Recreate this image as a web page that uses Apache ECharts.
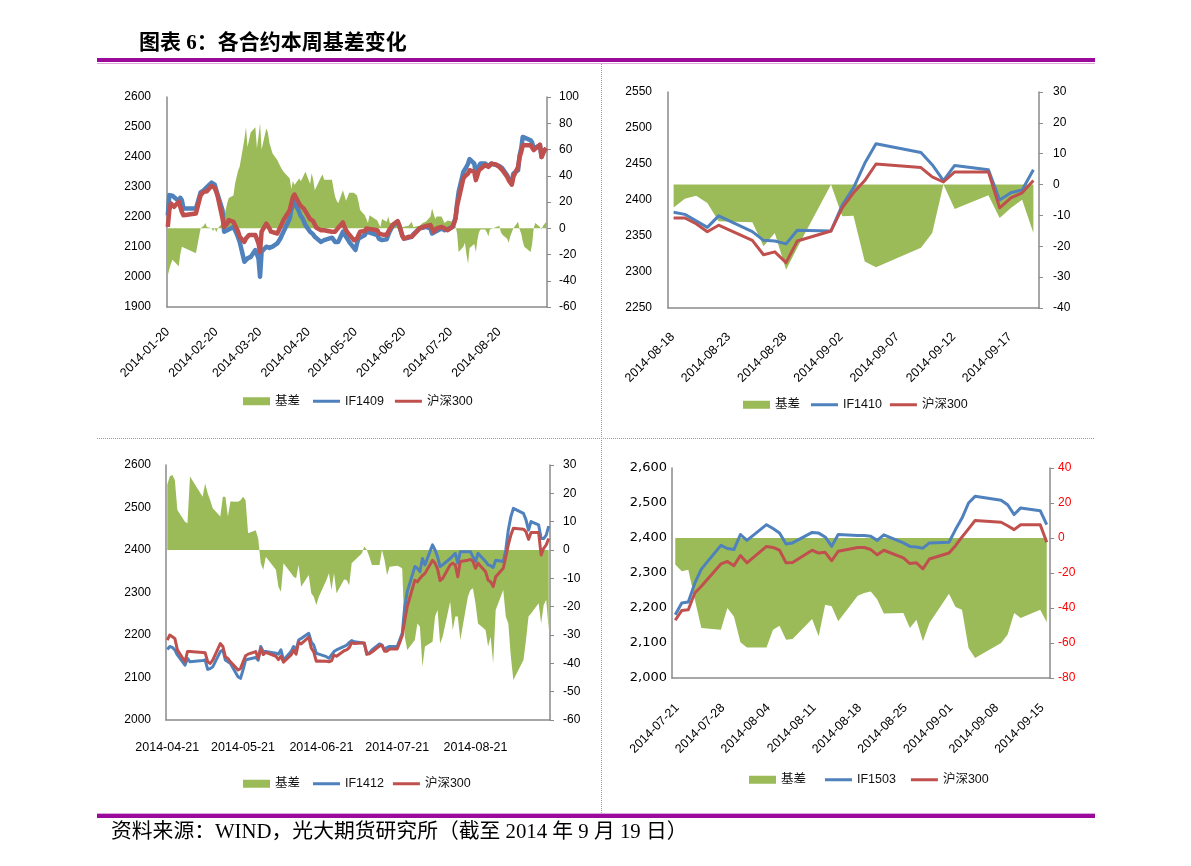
<!DOCTYPE html>
<html><head><meta charset="utf-8">
<script src="https://cdn.jsdelivr.net/npm/echarts@6/dist/echarts.min.js"></script>
<style>html,body{margin:0;padding:0;background:#fff}#c{width:1191px;height:866px}</style>
</head><body><div id="c"></div>
<script>
// ---------------- DATA ----------------
const TITLE = '图表 6：各合约本周基差变化';
const SOURCE = '资料来源：WIND，光大期货研究所（截至 2014 年 9 月 19 日）';
const SERIES_BASIS = '基差';
const SERIES_INDEX = '沪深300';
const HOLIDAYS = ['2014-01-31','2014-02-03','2014-02-04','2014-02-05','2014-02-06','2014-04-07','2014-05-01','2014-05-02','2014-06-02','2014-09-08'];

// Panel 1 : IF1409
const P1_CONTRACT = 'IF1409';
const P1_RANGE = ['2014-01-20','2014-09-19'];
const P1_TICKS = ['2014-01-20','2014-02-20','2014-03-20','2014-04-20','2014-05-20','2014-06-20','2014-07-20','2014-08-20'];
const P1_LEFT_AXIS = [1900, 2600, 100];
const P1_RIGHT_AXIS = [-60, 100, 20];
const P1_FUT = [
 2205,2273,2275,2271,2267,2253,2264,2256,2228,
 2228,2282,2286,2289,2295,2300,2315,2315,2308,2289,2273,2223,2151,2145,2156,2156,
 2167,2156,2145,2140,2117,2051,2056,2062,2064,2067,2090,2095,2062,2001,2084,2101,2095,2097,2101,2101,2112,
 2117,2128,2140,2142,2195,2223,2239,2250,2217,2204,2197,2186,2173,2151,2148,2142,2134,2128,2117,2120,2123,
 2131,2134,2117,2112,2117,2151,2145,2134,2126,2117,2097,2090,2112,2128,2134,2140,2151,2156,2148,2142,
 2140,2128,2123,2123,2126,2140,2153,2162,2171,2184,2171,2153,2137,2128,2131,2134,2134,2142,2148,2162,
 2162,2164,2167,2167,2162,2145,2140,2151,2156,2162,2162,2156,2156,2160,2167,2182,2197,2245,2284,2350,2350,2367,2378,
 2393,2378,2345,2356,2370,2378,2378,2373,2370,2375,2378,2373,2373,2370,2367,2362,2339,2328,2326,2315,2345,
 2356,2406,2428,2467,2470,2456,2448,2428,2423,2439,2400,2417,2423,2428];
const P1_HS300 = [
 2167,2223,2245,2240,2234,2251,2234,2217,2206,
 2212,2273,2278,2284,2289,2286,2304,2306,2297,2284,2267,2195,2167,2162,2178,2190,
 2184,2173,2162,2151,2134,2117,2128,2123,2140,2145,2140,2134,2112,2084,2151,2178,2173,2162,2151,2148,2145,
 2156,2162,2178,2190,2223,2245,2267,2275,2245,2237,2234,2228,2223,2193,2190,2186,2184,2164,2156,2156,2156,
 2151,2148,2151,2156,2164,2182,2167,2156,2148,2142,2123,2117,2128,2140,2151,2153,2162,2167,2160,2156,
 2156,2145,2140,2142,2140,2151,2160,2164,2175,2186,2173,2156,2137,2128,2134,2134,2134,2140,2145,2162,
 2167,2166,2167,2170,2173,2162,2151,2156,2162,2167,2166,2162,2160,2156,2167,2178,2195,2237,2259,2328,2336,2339,2345,
 2356,2350,2323,2339,2356,2362,2373,2367,2367,2373,2378,2375,2373,2367,2364,2356,2334,2323,2319,2308,2334,
 2367,2400,2417,2439,2445,2439,2437,2423,2419,2441,2400,2411,2423,2430];
const P1_BASIS = [
 -36,-31,-27,-24,-25,-29,-20,-14,-15,
 -19,0,1,2,4,1,0,-2,0,-3,0,4,8,14,19,23,
 25,34,39,44,47,68,77,62,61,73,77,61,70,80,60,76,73,65,61,57,52,
 51,47,46,43,38,30,36,33,38,36,38,39,43,34,42,37,29,28,39,41,37,
 37,30,24,21,19,29,25,21,24,27,27,26,25,20,14,10,7,4,10,9,
 6,3,1,7,5,9,4,5,4,3,0,1,1,2,2,2,5,1,1,2,
 3,4,4,5,9,15,11,7,9,9,10,4,5,6,5,7,2,-4,-18,-14,-11,-20,-27,
 -15,-12,-18,-9,-3,-1,-1,-3,-6,-1,0,1,0,2,-3,-5,-8,-11,-6,-3,0,
 5,-1,-4,-10,-14,-18,-12,0,4,1,-1,2,2,5];

// Panel 2 : IF1410
const P2_CONTRACT = 'IF1410';
const P2_RANGE = ['2014-08-18','2014-09-19'];
const P2_TICKS = ['2014-08-18','2014-08-23','2014-08-28','2014-09-02','2014-09-07','2014-09-12','2014-09-17'];
const P2_LEFT_AXIS = [2250, 2550, 50];
const P2_RIGHT_AXIS = [-40, 30, 10];
const P2_FUT = [2383,2380,2371,2362,2378, 2356,2344,2343,2339,2358, 2357,2393,2417,2451,2478, 2466,2449,2427,2448, 2442,2400,2410,2414,2442];
const P2_HS300 = [2375,2375,2367,2356,2365, 2344,2324,2328,2313,2343, 2357,2389,2410,2427,2450, 2445,2432,2425,2439, 2439,2389,2403,2410,2427];
const P2_BASIS = [-7.4,-4.6,-3.6,-6,-11.9, -12.2,-20,-15.7,-27.6,-20.5, 0,-10.3,-10.1,-24.9,-26.8, -20.5,-15.7,0,-7.9, -3.5,-10.8,-7.6,-4.9,-15.7];

// Panel 3 : IF1412
const P3_CONTRACT = 'IF1412';
const P3_RANGE = ['2014-04-21','2014-09-19'];
const P3_TICKS = ['2014-04-21','2014-05-21','2014-06-21','2014-07-21','2014-08-21'];
const P3_LEFT_AXIS = [2000, 2600, 100];
const P3_RIGHT_AXIS = [-60, 30, 10];
const P3_FUT = [
 2166,2173,2171,2165,2153,2129,2145,2137,
 2140,2141,2119,2121,2125,2161,2165,2141,2137,2133,2102,2098,2118,2141,2143,2147,2141,2173,2161,2161,
 2157,2155,2165,2141,2161,2173,2165,2188,2192,2204,2184,2176,2157,2155,2149,2145,2153,2161,2165,2173,
 2176,2182,2187,2184,2182,2180,2155,2158,2165,2179,2176,2165,2171,2173,2173,2188,2204,2267,2302,2361,2357,2349,2380,
 2365,2412,2400,2384,2361,2365,2380,2386,2392,2369,2396,2396,2396,2384,2373,2392,2373,2365,2363,2359,2376,
 2373,2400,2447,2478,2498,2486,2471,2447,2467,2459,2427,2427,2435,2456];
const P3_HS300 = [
 2188,2200,2196,2192,2165,2137,2161,2161,
 2159,2158,2137,2133,2141,2180,2173,2149,2145,2137,2118,2121,2137,2151,2155,2161,2145,2168,2154,2159,
 2150,2142,2150,2136,2153,2164,2155,2183,2179,2195,2169,2160,2138,2139,2138,2137,2139,2153,2150,2163,
 2165,2170,2182,2180,2181,2181,2155,2156,2160,2174,2176,2162,2162,2167,2167,2182,2198,2234,2267,2329,2325,2333,2340,
 2345,2376,2369,2355,2328,2333,2365,2369,2365,2337,2373,2376,2378,2373,2357,2369,2349,2329,2325,2314,2337,
 2357,2384,2412,2435,2451,2449,2443,2425,2441,2441,2388,2404,2412,2427];
const P3_BASIS = [
 23,26,26.5,24.7,14.1,10,9.4,25.9,
 18.8,23.5,20,17.6,14.7,11.8,18.8,18.8,11.8,17.1,17,17.6,18.8,17.6,5.9,7,4.1,-4.7,-7,-2.4,
 -7,-13,-14.7,-4.7,-8.2,-9.4,-10,-5.3,-13,-8.8,-15.3,-16.5,-19.4,-16.5,-10.6,-8.2,-14.1,-8.2,-15.3,-10.4,
 -10.6,-12.4,-4.7,-3.8,-1.2,1.2,0,-2.4,-5.3,-5.3,0,-3.5,-8.8,-5.9,-5.6,-5.9,-6.5,-30.6,-35.3,-31.8,-25.9,-27,-41.2,
 -34.1,-32.4,-23.5,-21.2,-33,-30.6,-18.2,-28.2,-23.5,-23.5,-31.8,-16.5,-14.1,-13.5,-18.8,-25.9,-28.2,-34.1,-30.6,-40,-21.2,
 -14.1,-23.5,-25.9,-37.6,-45.9,-38.8,-31.8,-23.5,-22.4,-18.8,-25.9,-19.4,-17.6,-28.2];

// Panel 4 : IF1503
const P4_CONTRACT = 'IF1503';
const P4_RANGE = ['2014-07-21','2014-09-16'];
const P4_TICKS = ['2014-07-21','2014-07-28','2014-08-04','2014-08-11','2014-08-18','2014-08-25','2014-09-01','2014-09-08','2014-09-15'];
const P4_LEFT_AXIS = [2000, 2600, 100];
const P4_RIGHT_AXIS = [-80, 40, 20];
const P4_FUT = [
 2181,2214,2217,2271,2311,2379,2370,2367,2410,
 2393,2438,2427,2414,2383,2386,2416,2414,2403,2376,2410,2407,2407,2405,2393,2409,2386,2376,2374,2371,2386,
 2388,2424,2457,2500,2519,2508,2495,2467,2486,2478,2438];
const P4_HS300 = [
 2165,2193,2195,2243,2262,2326,2333,2321,2350,
 2329,2376,2373,2365,2329,2330,2365,2357,2359,2335,2362,2373,2373,2367,2352,2365,2343,2327,2329,2312,2340,
 2357,2378,2403,2426,2450,2445,2435,2424,2438,2438,2388];
const P4_BASIS = [
 -15.2,-19,-18.1,-35.2,-51.4,-52.4,-40,-44.8,-59.6,
 -62.5,-62.5,-52.4,-50.1,-58.1,-57.7,-46.3,-56.2,-38.1,-39,-47.6,-33,-31.4,-30.5,-35.2,-43.2,-42.9,-51.4,-46.7,-59,-48.6,
 -31.8,-39.4,-41,-62.9,-68.6,-60,-55.2,-42.9,-45.7,-41,-48.2];

// ---------------- HELPERS ----------------
const DAY = 86400000;
function utc(s){const a=s.split('-').map(Number);return Date.UTC(a[0],a[1]-1,a[2]);}
function fmt(t){const d=new Date(t);return d.getUTCFullYear()+'-'+String(d.getUTCMonth()+1).padStart(2,'0')+'-'+String(d.getUTCDate()).padStart(2,'0');}
function off(s,start){return Math.round((utc(s)-utc(start))/DAY);}
function tradingDays(start,end){const out=[];for(let t=utc(start);t<=utc(end);t+=DAY){const wd=new Date(t).getUTCDay();const s=fmt(t);if(wd===0||wd===6||HOLIDAYS.indexOf(s)>=0)continue;out.push(s);}return out;}
function thousands(v){return String(v).replace(/\B(?=(\d{3})+(?!\d))/g, ',');}

const PANELS = [
 {name:P1_CONTRACT, range:P1_RANGE, ticks:P1_TICKS, yl:P1_LEFT_AXIS, yr:P1_RIGHT_AXIS, fut:P1_FUT, hs:P1_HS300, basis:P1_BASIS},
 {name:P2_CONTRACT, range:P2_RANGE, ticks:P2_TICKS, yl:P2_LEFT_AXIS, yr:P2_RIGHT_AXIS, fut:P2_FUT, hs:P2_HS300, basis:P2_BASIS},
 {name:P3_CONTRACT, range:P3_RANGE, ticks:P3_TICKS, yl:P3_LEFT_AXIS, yr:P3_RIGHT_AXIS, fut:P3_FUT, hs:P3_HS300, basis:P3_BASIS},
 {name:P4_CONTRACT, range:P4_RANGE, ticks:P4_TICKS, yl:P4_LEFT_AXIS, yr:P4_RIGHT_AXIS, fut:P4_FUT, hs:P4_HS300, basis:P4_BASIS}
];

// ---------------- LAYOUT / STYLE ----------------
const FONT = "'Liberation Sans','Noto Sans CJK SC',sans-serif";
const AXIS_COLOR = '#8a8a8a';
const GREEN = '#9BBB59', BLUE = '#4F81BD', RED = '#C0504D';
const LAYOUT = [
 {grid:{left:167,top:97,width:380,height:210}, rotate:45, shiftPx:0, xMargin:23, xFont:12.5, lw:4.5,
  ylMargin:16, yrMargin:12, ylFont:12, ylFamily:FONT, thousands:false, yrColor:'#000',
  legTop:395, legA:243, legB:313, gapB:11},
 {grid:{left:668,top:92,width:371,height:216}, rotate:45, shiftPx:-1, xMargin:27, xFont:12.5, lw:3,
  ylMargin:16, yrMargin:14, ylFont:12, ylFamily:FONT, thousands:false, yrColor:'#000',
  legTop:398.5, legA:743, legB:811, gapB:8},
 {grid:{left:166,top:465,width:384,height:255}, rotate:0, shiftPx:0, xMargin:21, xFont:12.5, lw:3,
  ylMargin:15, yrMargin:13, ylFont:12, ylFamily:FONT, thousands:false, yrColor:'#000',
  legTop:777.5, legA:243, legB:313, gapB:9},
 {grid:{left:672,top:468,width:378,height:210}, rotate:45, shiftPx:2, xMargin:28, xFont:12.5, lw:3,
  ylMargin:5, yrMargin:8, ylFont:13, ylFamily:"'DejaVu Sans',sans-serif", thousands:true, yrColor:'#FF0000',
  legTop:773.5, legA:749, legB:825, gapB:15}
];

const option = {animation:false, backgroundColor:'#ffffff', grid:[], xAxis:[], yAxis:[], series:[], legend:[], graphic:[]};

PANELS.forEach(function(p, i){
  const L = LAYOUT[i];
  const dates = tradingDays(p.range[0], p.range[1]);
  if (dates.length !== p.fut.length || dates.length !== p.hs.length || dates.length !== p.basis.length) {
    console.warn('length mismatch panel', i+1, dates.length, p.fut.length, p.hs.length, p.basis.length);
  }
  const start = p.range[0];
  const nSlots = off(p.range[1], start) + 1;
  const shift = L.shiftPx * nSlots / L.grid.width;
  const xs = dates.map(function(d){return off(d, start);});
  option.grid.push(Object.assign({containLabel:false, outerBoundsMode:'none'}, L.grid));
  option.xAxis.push({
    gridIndex:i, type:'value', min:-0.5, max:nSlots-0.5,
    axisLine:{show:true, onZero:false, lineStyle:{color:AXIS_COLOR, width:1.5}},
    axisTick:{show:false}, splitLine:{show:false},
    axisLabel:{
      customValues: p.ticks.map(function(s){return off(s,start)+shift;}),
      formatter: function(v){return fmt(utc(start) + Math.round(v - shift)*DAY);},
      rotate:L.rotate, margin:L.xMargin, fontSize:L.xFont, color:'#000', fontFamily:FONT,
      hideOverlap:false
    }
  });
  option.yAxis.push({
    gridIndex:i, type:'value', position:'left', min:p.yl[0], max:p.yl[1], interval:p.yl[2],
    axisLine:{show:true, onZero:false, lineStyle:{color:AXIS_COLOR, width:1.5}},
    axisTick:{show:false}, splitLine:{show:false},
    axisLabel:{margin:L.ylMargin, fontSize:L.ylFont, color:'#000', fontFamily:L.ylFamily,
      formatter: L.thousands ? thousands : function(v){return String(v);}}
  });
  option.yAxis.push({
    gridIndex:i, type:'value', position:'right', min:p.yr[0], max:p.yr[1], interval:p.yr[2],
    axisLine:{show:true, onZero:false, lineStyle:{color:AXIS_COLOR, width:1.5}},
    axisTick:{show:true, inside:false, length:4, lineStyle:{color:AXIS_COLOR, width:1}},
    splitLine:{show:false},
    axisLabel:{margin:L.yrMargin, fontSize:12, color:L.yrColor, fontFamily:FONT}
  });
  option.series.push({
    name:SERIES_BASIS, type:'line', xAxisIndex:i, yAxisIndex:2*i+1,
    data: xs.map(function(x,k){return [x, p.basis[k]];}),
    symbol:'none', silent:true, z:1,
    lineStyle:{width:0, color:GREEN}, itemStyle:{color:GREEN, borderWidth:0},
    areaStyle:{color:GREEN, opacity:1, origin:0}
  });
  option.series.push({
    name:p.name, type:'line', xAxisIndex:i, yAxisIndex:2*i,
    data: xs.map(function(x,k){return [x, p.fut[k]];}),
    symbol:'none', silent:true, z:2,
    lineStyle:{width:L.lw, color:BLUE, join:'round'}, itemStyle:{color:BLUE, borderWidth:0}
  });
  option.series.push({
    name:SERIES_INDEX, type:'line', xAxisIndex:i, yAxisIndex:2*i,
    data: xs.map(function(x,k){return [x, p.hs[k]];}),
    symbol:'none', silent:true, z:3,
    lineStyle:{width:L.lw, color:RED, join:'round'}, itemStyle:{color:RED, borderWidth:0}
  });
  const legText = {fontSize:12.5, color:'#111', fontFamily:FONT};
  option.legend.push({
    left:L.legA, top:L.legTop, padding:0, itemWidth:27, itemHeight:8, selectedMode:false,
    itemStyle:{borderWidth:0}, textStyle:legText,
    data:[{name:SERIES_BASIS, icon:'rect'}]
  });
  option.legend.push({
    left:L.legB, top:L.legTop, padding:0, itemWidth:27, itemHeight:3, itemGap:L.gapB, selectedMode:false,
    itemStyle:{borderWidth:0}, textStyle:legText,
    data:[{name:p.name, icon:'rect'},{name:SERIES_INDEX, icon:'rect'}]
  });
});

option.graphic = [
  {type:'text', x:139, y:43.5, silent:true, style:{text:TITLE, font:'bold 21px "Liberation Serif","Noto Sans CJK SC",serif', fill:'#000', textAlign:'left', textVerticalAlign:'middle', align:'left', verticalAlign:'middle'}},
  {type:'rect', silent:true, shape:{x:97, y:58, width:998, height:4}, style:{fill:'#9C0A9C'}},
  {type:'line', silent:true, shape:{x1:97, y1:63.5, x2:1095, y2:63.5}, style:{stroke:'#DDA8DD', lineWidth:1}},
  {type:'line', silent:true, shape:{x1:601.5, y1:64, x2:601.5, y2:813}, style:{stroke:'#CF7ACF', lineWidth:1, lineDash:[1,1]}},
  {type:'line', silent:true, shape:{x1:97, y1:438.5, x2:1095, y2:438.5}, style:{stroke:'#CF7ACF', lineWidth:1, lineDash:[1,1]}},
  {type:'line', silent:true, shape:{x1:97, y1:813.5, x2:1095, y2:813.5}, style:{stroke:'#DDA8DD', lineWidth:1}},
  {type:'rect', silent:true, shape:{x:97, y:814, width:998, height:4}, style:{fill:'#9C0A9C'}},
  {type:'text', x:111, y:833, silent:true, style:{text:SOURCE, font:'20.8px "Liberation Serif","Noto Sans CJK SC",serif', fill:'#000', textAlign:'left', textVerticalAlign:'middle', align:'left', verticalAlign:'middle'}}
];

const chart = echarts.init(document.getElementById('c'), null, {renderer:'canvas', width:1191, height:866});
chart.setOption(option);
</script>
</body></html>
